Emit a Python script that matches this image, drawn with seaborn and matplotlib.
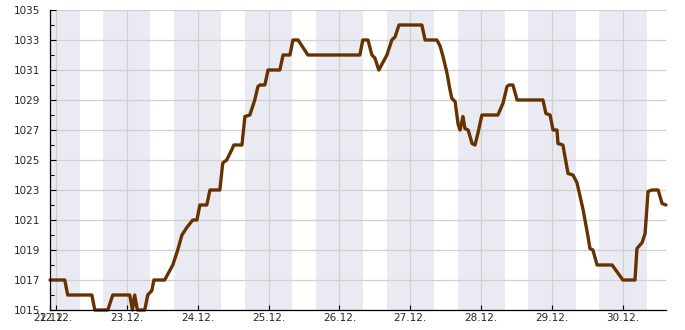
import matplotlib
matplotlib.use("Agg")
import matplotlib.pyplot as plt
import matplotlib.dates as mdates
from matplotlib.ticker import MultipleLocator
import seaborn as sns
import pandas as pd

times = [
    "2023-12-21 22:00", "2023-12-22 03:00", "2023-12-22 04:00", "2023-12-22 12:10",
    "2023-12-22 13:10", "2023-12-22 17:35", "2023-12-22 19:15", "2023-12-23 01:00",
    "2023-12-23 01:55", "2023-12-23 02:40", "2023-12-23 03:35", "2023-12-23 06:05",
    "2023-12-23 07:05", "2023-12-23 08:30", "2023-12-23 09:10", "2023-12-23 12:50",
    "2023-12-23 13:55", "2023-12-23 15:35", "2023-12-23 16:35", "2023-12-23 17:15",
    "2023-12-23 18:40", "2023-12-23 20:20", "2023-12-23 22:20", "2023-12-23 23:45",
    "2023-12-24 00:45", "2023-12-24 03:05", "2023-12-24 04:10", "2023-12-24 07:30",
    "2023-12-24 08:30", "2023-12-24 09:50", "2023-12-24 11:35", "2023-12-24 12:15",
    "2023-12-24 15:00", "2023-12-24 16:00", "2023-12-24 17:40", "2023-12-24 19:20",
    "2023-12-24 20:25", "2023-12-24 21:05", "2023-12-24 22:45", "2023-12-24 23:50",
    "2023-12-25 03:50", "2023-12-25 04:55", "2023-12-25 07:15", "2023-12-25 08:15",
    "2023-12-25 10:00", "2023-12-25 13:20", "2023-12-26 06:55", "2023-12-26 07:55",
    "2023-12-26 09:40", "2023-12-26 11:00", "2023-12-26 12:00", "2023-12-26 13:20",
    "2023-12-26 16:05", "2023-12-26 17:45", "2023-12-26 18:50", "2023-12-26 20:10",
    "2023-12-27 03:55", "2023-12-27 05:00", "2023-12-27 09:00", "2023-12-27 10:05",
    "2023-12-27 11:05", "2023-12-27 12:25", "2023-12-27 13:25", "2023-12-27 14:05",
    "2023-12-27 15:10", "2023-12-27 16:10", "2023-12-27 16:50", "2023-12-27 17:50",
    "2023-12-27 18:30", "2023-12-27 19:35", "2023-12-27 20:55", "2023-12-27 21:55",
    "2023-12-27 22:55", "2023-12-28 00:15", "2023-12-28 05:40", "2023-12-28 07:25",
    "2023-12-28 08:45", "2023-12-28 09:25", "2023-12-28 10:45", "2023-12-28 12:10",
    "2023-12-28 20:55", "2023-12-28 21:55", "2023-12-28 23:20", "2023-12-29 00:20",
    "2023-12-29 01:40", "2023-12-29 02:00", "2023-12-29 03:40", "2023-12-29 05:25",
    "2023-12-29 07:05", "2023-12-29 08:25", "2023-12-29 10:30", "2023-12-29 12:10",
    "2023-12-29 12:50", "2023-12-29 13:50", "2023-12-29 15:15", "2023-12-29 20:20",
    "2023-12-30 00:00", "2023-12-30 04:05", "2023-12-30 04:45", "2023-12-30 06:30",
    "2023-12-30 07:30", "2023-12-30 08:30", "2023-12-30 09:50", "2023-12-30 11:55",
    "2023-12-30 13:15", "2023-12-30 14:35",
]
pressure = [
    1017, 1017, 1016, 1016,
    1015, 1015, 1016, 1016,
    1015, 1016, 1015, 1015,
    1016, 1016.3, 1017, 1017,
    1017.4, 1018, 1018.6, 1019,
    1020, 1020.5, 1021, 1021,
    1022, 1022, 1023, 1023,
    1024.8, 1025, 1025.7, 1026,
    1026, 1027.9, 1028, 1029,
    1029.9, 1030, 1030, 1031,
    1031, 1032, 1032, 1033,
    1033, 1032, 1032, 1033,
    1033, 1032, 1031.8, 1031,
    1032, 1033, 1033.2, 1034,
    1034, 1033, 1033, 1032.6,
    1031.9, 1030.8, 1029.7, 1029.1,
    1028.9, 1027.4, 1027, 1027.9,
    1027.1, 1027, 1026.1, 1026,
    1026.8, 1028, 1028, 1028.8,
    1029.9, 1030, 1030, 1029,
    1029, 1028.1, 1028, 1027,
    1027, 1026.1, 1026, 1024.1,
    1024, 1023.5, 1021.7, 1019.9,
    1019.1, 1019, 1018, 1018,
    1017, 1017, 1019.1, 1019.5,
    1020.1, 1022.9, 1023, 1023,
    1022.1, 1022,
]
day_labels = ["21.12.", "22.12.", "23.12.", "24.12.", "25.12.", "26.12.",
              "27.12.", "28.12.", "29.12.", "30.12."]
y_min, y_max = 1015, 1035

df = pd.DataFrame({"time": pd.to_datetime(times), "pressure": pressure})

sns.set_style("white")
plt.rcParams["font.family"] = ["DejaVu Sans"]
plt.rcParams["font.size"] = 7.5

fig = plt.figure(figsize=(6.85, 3.3), dpi=100)
ax = fig.add_axes([50 / 685, 20 / 330, 616 / 685, 300 / 330])

start = df["time"].iloc[0]
end = df["time"].iloc[-1]

# night shading 16:00 -> 08:00
day0 = start.normalize()
d = day0 - pd.Timedelta(days=1)
while d <= end:
    s = d + pd.Timedelta(hours=16)
    e = d + pd.Timedelta(hours=32)
    ax.axvspan(max(s, start), min(e, end), color="#EAEAF2", lw=0, zorder=0)
    d += pd.Timedelta(days=1)

sns.lineplot(data=df, x="time", y="pressure", ax=ax, color="#663300",
             linewidth=2.4, zorder=3)
for ln in ax.get_lines():
    ln.set_clip_on(False)

ax.set_xlim(start, end)
ax.set_ylim(y_min, y_max)

midnights = [day0 + pd.Timedelta(days=i) for i in range(1, len(day_labels))]
ax.set_xticks([start] + midnights)
ax.set_xticklabels(day_labels)

ax.yaxis.set_major_locator(MultipleLocator(2))
ax.yaxis.set_minor_locator(MultipleLocator(1))
ax.set_yticks(range(y_min, y_max + 1, 2))

ax.grid(True, which="major", color="#D0D0D0", linewidth=0.9, zorder=1)
ax.set_axisbelow(True)

ax.tick_params(axis="y", which="major", direction="in", length=4, width=0.8,
               color="black", pad=7, labelsize=7.5, left=True)
ax.tick_params(axis="y", which="minor", direction="in", length=3, width=0.8,
               color="black", left=True)
ax.tick_params(axis="x", which="major", direction="in", length=3.5, width=0.8,
               color="black", pad=2, labelsize=7.5, bottom=True)

for side in ["top", "right"]:
    ax.spines[side].set_visible(False)
for side in ["left", "bottom"]:
    ax.spines[side].set_color("black")
    ax.spines[side].set_linewidth(0.9)
    ax.spines[side].set_zorder(4)

ax.set_xlabel("")
ax.set_ylabel("")

fig.savefig("out.png", dpi=100)
